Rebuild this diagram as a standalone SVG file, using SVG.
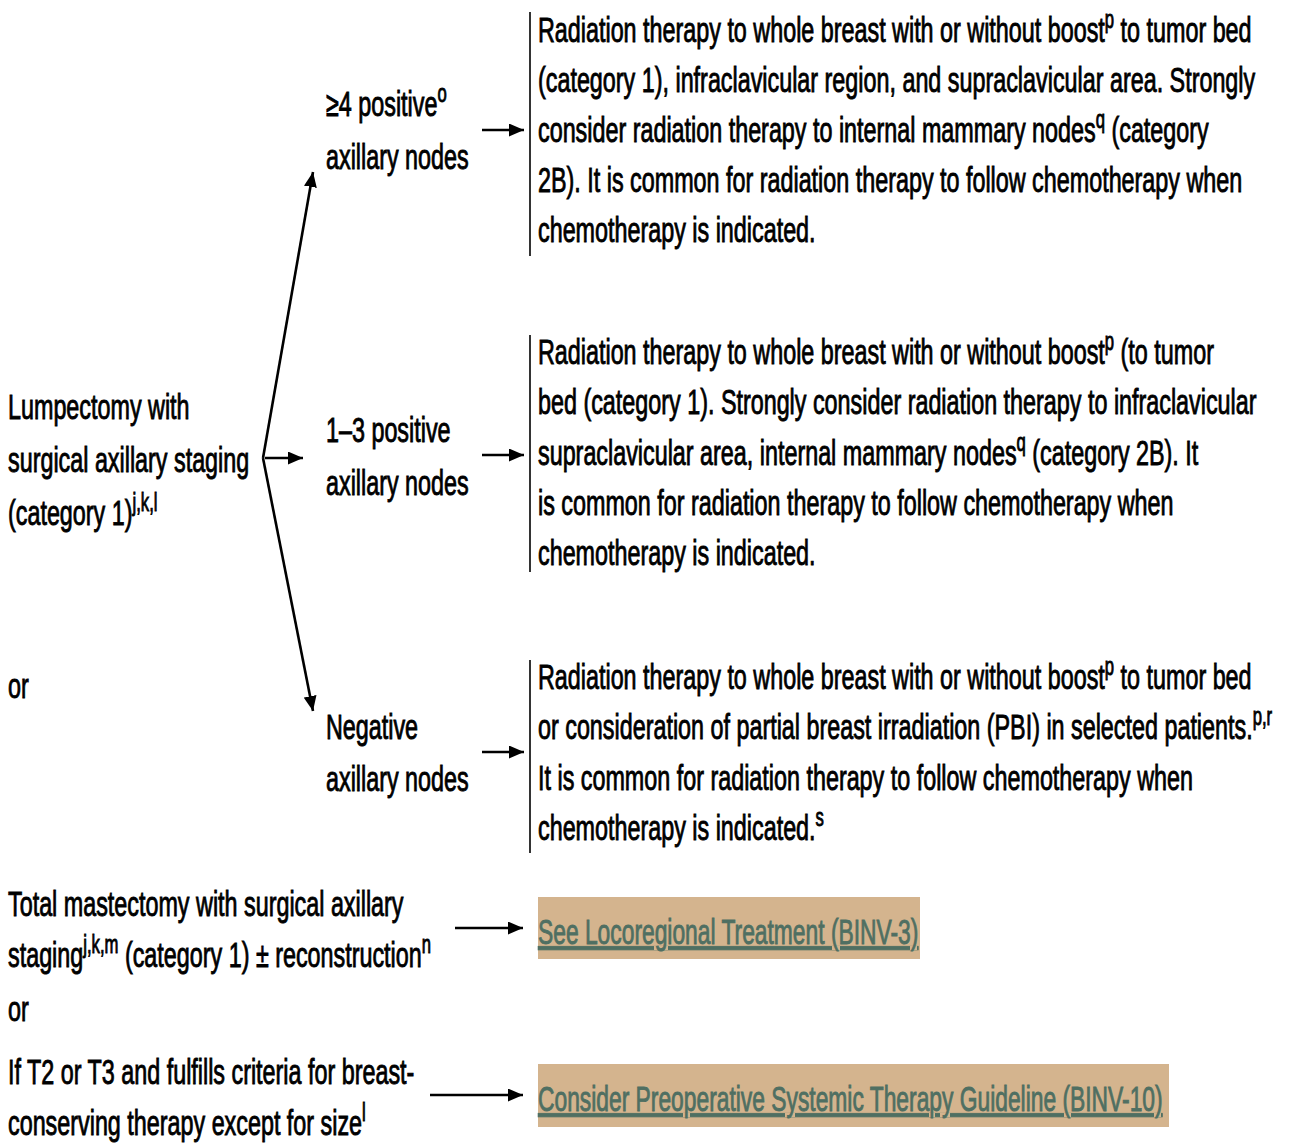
<svg xmlns="http://www.w3.org/2000/svg" width="1291" height="1146" viewBox="0 0 1291 1146">
<style>
.t{font-family:"Liberation Sans",Arial,sans-serif;font-size:35px;fill:#000;stroke:#000;stroke-width:0.9}
.s{font-size:25px}
.lk{fill:#4f6f62;stroke:#4f6f62;text-decoration:underline}
.ln{stroke:#000;stroke-width:2.6;fill:none}
.bar{stroke:#000;stroke-width:1.6}
.box{fill:#d4b48e}
</style>
<defs>
<marker id="ah" viewBox="0 0 15 13" refX="15" refY="6.5" markerWidth="15" markerHeight="13" markerUnits="userSpaceOnUse" orient="auto">
<path d="M0,0 L15,6.5 L0,13 Z" fill="#000"/>
</marker>
</defs>
<rect width="1291" height="1146" fill="#fff"/>

<g id="connectors">
<line class="ln" x1="263" y1="458" x2="313" y2="172" marker-end="url(#ah)"/>
<line class="ln" x1="263" y1="458" x2="313" y2="711" marker-end="url(#ah)"/>
<line class="ln" x1="265" y1="458" x2="303" y2="458" marker-end="url(#ah)"/>
<line class="ln" x1="482" y1="130" x2="524" y2="130" marker-end="url(#ah)"/>
<line class="ln" x1="482" y1="455" x2="524" y2="455" marker-end="url(#ah)"/>
<line class="ln" x1="482" y1="752" x2="524" y2="752" marker-end="url(#ah)"/>
<line class="ln" x1="455" y1="928" x2="523" y2="928" marker-end="url(#ah)"/>
<line class="ln" x1="430" y1="1095" x2="523" y2="1095" marker-end="url(#ah)"/>
</g>

<g id="lumpectomy" transform="translate(8,2) scale(0.667,1)">
<text class="t" x="0" y="417">Lumpectomy with</text>
<text class="t" x="0" y="470">surgical axillary staging</text>
<text class="t" x="0" y="523">(category 1)<tspan class="s" dy="-14">j,k,l</tspan></text>
</g>

<g id="or1" transform="translate(8,2) scale(0.667,1)">
<text class="t" x="0" y="696">or</text>
</g>

<g id="pos4" transform="translate(326,2) scale(0.667,1)">
<text class="t" x="0" y="114">≥4 positive<tspan class="s" dy="-14">o</tspan></text>
<text class="t" x="0" y="167">axillary nodes</text>
</g>

<g id="pos13" transform="translate(326,2) scale(0.667,1)">
<text class="t" x="0" y="440">1–3 positive</text>
<text class="t" x="0" y="493">axillary nodes</text>
</g>

<g id="neg" transform="translate(326,2) scale(0.667,1)">
<text class="t" x="0" y="737">Negative</text>
<text class="t" x="0" y="789">axillary nodes</text>
</g>

<g id="rt4">
<line class="bar" x1="530" y1="12" x2="530" y2="256"/>
<g transform="translate(538,2) scale(0.667,1)">
<text class="t" x="0" y="40">Radiation therapy to whole breast with or without boost<tspan class="s" dy="-14">p</tspan><tspan dy="14"> to tumor bed</tspan></text>
<text class="t" x="0" y="90">(category 1), infraclavicular region, and supraclavicular area. Strongly</text>
<text class="t" x="0" y="140">consider radiation therapy to internal mammary nodes<tspan class="s" dy="-14">q</tspan><tspan dy="14"> (category</tspan></text>
<text class="t" x="0" y="190">2B). It is common for radiation therapy to follow chemotherapy when</text>
<text class="t" x="0" y="240">chemotherapy is indicated.</text>
</g>
</g>

<g id="rt13">
<line class="bar" x1="530" y1="335" x2="530" y2="572"/>
<g transform="translate(538,2) scale(0.667,1)">
<text class="t" x="0" y="362">Radiation therapy to whole breast with or without boost<tspan class="s" dy="-14">p</tspan><tspan dy="14"> (to tumor</tspan></text>
<text class="t" x="0" y="412">bed (category 1). Strongly consider radiation therapy to infraclavicular</text>
<text class="t" x="0" y="463">supraclavicular area, internal mammary nodes<tspan class="s" dy="-14">q</tspan><tspan dy="14"> (category 2B). It</tspan></text>
<text class="t" x="0" y="513">is common for radiation therapy to follow chemotherapy when</text>
<text class="t" x="0" y="563">chemotherapy is indicated.</text>
</g>
</g>

<g id="rtneg">
<line class="bar" x1="530" y1="660" x2="530" y2="853"/>
<g transform="translate(538,2) scale(0.667,1)">
<text class="t" x="0" y="687">Radiation therapy to whole breast with or without boost<tspan class="s" dy="-14">p</tspan><tspan dy="14"> to tumor bed</tspan></text>
<text class="t" x="0" y="737">or consideration of partial breast irradiation (PBI) in selected patients.<tspan class="s" dy="-14">p,r</tspan></text>
<text class="t" x="0" y="788">It is common for radiation therapy to follow chemotherapy when</text>
<text class="t" x="0" y="838">chemotherapy is indicated.<tspan class="s" dy="-14">s</tspan></text>
</g>
</g>

<g id="mastectomy" transform="translate(8,2) scale(0.667,1)">
<text class="t" x="0" y="914">Total mastectomy with surgical axillary</text>
<text class="t" x="0" y="965">staging<tspan class="s" dy="-14">j,k,m</tspan><tspan dy="14"> (category 1) ± reconstruction</tspan><tspan class="s" dy="-14">n</tspan></text>
</g>

<g id="or2" transform="translate(8,2) scale(0.667,1)">
<text class="t" x="0" y="1019">or</text>
</g>

<g id="t2t3" transform="translate(8,2) scale(0.667,1)">
<text class="t" x="0" y="1082">If T2 or T3 and fulfills criteria for breast-</text>
<text class="t" x="0" y="1133">conserving therapy except for size<tspan class="s" dy="-14">l</tspan></text>
</g>

<g id="link1">
<rect class="box" x="538" y="897" width="382" height="62"/>
<g transform="translate(538,2) scale(0.652,1)">
<text class="t lk" x="0" y="942">See Locoregional Treatment (BINV-3)</text>
</g>
</g>

<g id="link2">
<rect class="box" x="538" y="1064" width="631" height="63"/>
<g transform="translate(538,2) scale(0.652,1)">
<text class="t lk" x="0" y="1109">Consider Preoperative Systemic Therapy Guideline (BINV-10)</text>
</g>
</g>
</svg>
